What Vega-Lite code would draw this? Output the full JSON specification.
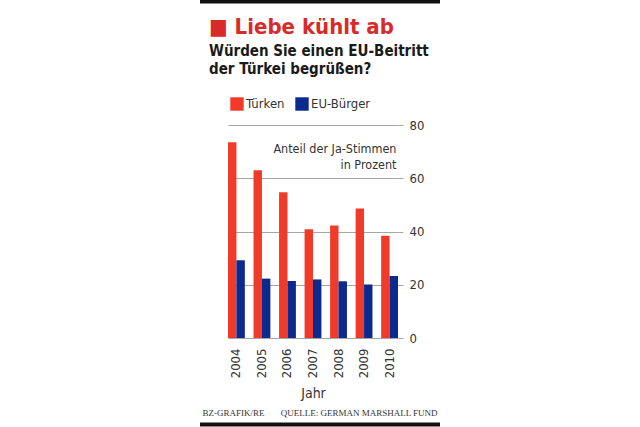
{
  "$schema": "https://vega.github.io/schema/vega-lite/v6.json",
  "width": 170,
  "height": 213,
  "autosize": {"type": "none"},
  "padding": {"left": 228, "top": 125, "right": 242, "bottom": 89},
  "background": "white",
  "config": {"view": {"stroke": null}, "font": "DejaVu Sans Condensed"},
  "title": {
    "text": "■ Liebe kühlt ab",
    "subtitle": ["Würden Sie einen EU-Beitritt", "der Türkei begrüßen?"],
    "anchor": "start",
    "frame": "group",
    "dx": -19,
    "font": "DejaVu Sans Condensed",
    "fontSize": 22,
    "fontWeight": "bold",
    "color": "#d92a2a",
    "subtitleFont": "DejaVu Sans Condensed",
    "subtitleFontSize": 15,
    "subtitleFontWeight": "bold",
    "subtitleColor": "#1a1a1a",
    "subtitleLineHeight": 18,
    "subtitlePadding": 5,
    "offset": -79
  },
  "layer": [
    {
      "data": {
        "values": [
          {"year": 2004, "group": "Türken", "value": 73.5},
          {"year": 2005, "group": "Türken", "value": 63},
          {"year": 2006, "group": "Türken", "value": 54.7},
          {"year": 2007, "group": "Türken", "value": 40.8},
          {"year": 2008, "group": "Türken", "value": 42.3},
          {"year": 2009, "group": "Türken", "value": 48.6},
          {"year": 2010, "group": "Türken", "value": 38.4},
          {"year": 2004, "group": "EU-Bürger", "value": 29.2},
          {"year": 2005, "group": "EU-Bürger", "value": 22.3},
          {"year": 2006, "group": "EU-Bürger", "value": 21.4},
          {"year": 2007, "group": "EU-Bürger", "value": 22},
          {"year": 2008, "group": "EU-Bürger", "value": 21.3},
          {"year": 2009, "group": "EU-Bürger", "value": 20.1},
          {"year": 2010, "group": "EU-Bürger", "value": 23.3}
        ]
      },
      "mark": {"type": "bar"},
      "encoding": {
        "x": {
          "field": "year",
          "type": "ordinal",
          "scale": {"paddingInner": 0.34, "paddingOuter": 0},
          "axis": {
            "title": "Jahr",
            "labelAngle": -90,
            "labelAlign": "right",
            "labelBaseline": "middle",
            "labelPadding": 10,
            "labelFontSize": 13,
            "labelFont": "DejaVu Sans Condensed",
            "labelColor": "#333333",
            "ticks": false,
            "domain": false,
            "titleFont": "DejaVu Sans Condensed",
            "titleFontSize": 14,
            "titleFontWeight": "normal",
            "titleColor": "#333333",
            "titlePadding": 9
          }
        },
        "xOffset": {"field": "group", "sort": ["Türken", "EU-Bürger"], "scale": {"paddingInner": 0}},
        "y": {
          "field": "value",
          "type": "quantitative",
          "scale": {"domain": [0, 80]},
          "axis": {
            "orient": "right",
            "values": [0, 20, 40, 60, 80],
            "grid": true,
            "gridColor": "#a6a6a6",
            "tickColor": "#a6a6a6",
            "tickSize": 5,
            "domain": false,
            "labelPadding": 6,
            "labelFontSize": 13,
            "labelFont": "DejaVu Sans Condensed",
            "labelColor": "#333333",
            "title": ["Anteil der Ja-Stimmen", "in Prozent"],
            "titleAngle": 0,
            "titleAlign": "right",
            "titleBaseline": "alphabetic",
            "titleX": -2,
            "titleY": 27,
            "titleFont": "DejaVu Sans Condensed",
            "titleFontSize": 12.5,
            "titleFontWeight": "normal",
            "titleColor": "#333333",
            "titleLineHeight": 16
          }
        },
        "color": {
          "field": "group",
          "type": "nominal",
          "scale": {"domain": ["Türken", "EU-Bürger"], "range": ["#f03b2b", "#0c2a8e"]},
          "legend": {
            "orient": "none",
            "legendX": 2,
            "legendY": -28,
            "direction": "horizontal",
            "title": null,
            "symbolType": "square",
            "symbolSize": 180,
            "symbolStrokeWidth": 0,
            "symbolOpacity": 1,
            "labelFontSize": 13,
            "labelFont": "DejaVu Sans Condensed",
            "labelColor": "#333333",
            "labelOffset": 2,
            "columnPadding": 10,
            "padding": 0
          }
        }
      }
    },
    {
      "data": {"values": [{"label": "BZ-GRAFIK/RE"}]},
      "mark": {"type": "text", "align": "left", "baseline": "middle", "dx": -34, "font": "Liberation Serif", "fontSize": 9, "color": "#333333"},
      "encoding": {
        "x": {"datum": 2004, "type": "ordinal"},
        "y": {"datum": -28},
        "text": {"field": "label"}
      }
    },
    {
      "data": {"values": [{"label": "QUELLE: GERMAN MARSHALL FUND"}]},
      "mark": {"type": "text", "align": "right", "baseline": "middle", "dx": 48, "font": "Liberation Serif", "fontSize": 9, "color": "#333333"},
      "encoding": {
        "x": {"datum": 2010, "type": "ordinal"},
        "y": {"datum": -28},
        "text": {"field": "label"}
      }
    },
    {
      "data": {"values": [{"edge": "top", "pos": 126.4}, {"edge": "bottom", "pos": -32.5}]},
      "mark": {"type": "rule", "color": "#111111", "strokeWidth": 4, "xOffset": -28, "x2Offset": 42},
      "encoding": {
        "x": {"datum": 2004, "type": "ordinal", "bandPosition": 0},
        "x2": {"datum": 2010, "bandPosition": 1},
        "y": {"field": "pos", "type": "quantitative"}
      }
    }
  ]
}
